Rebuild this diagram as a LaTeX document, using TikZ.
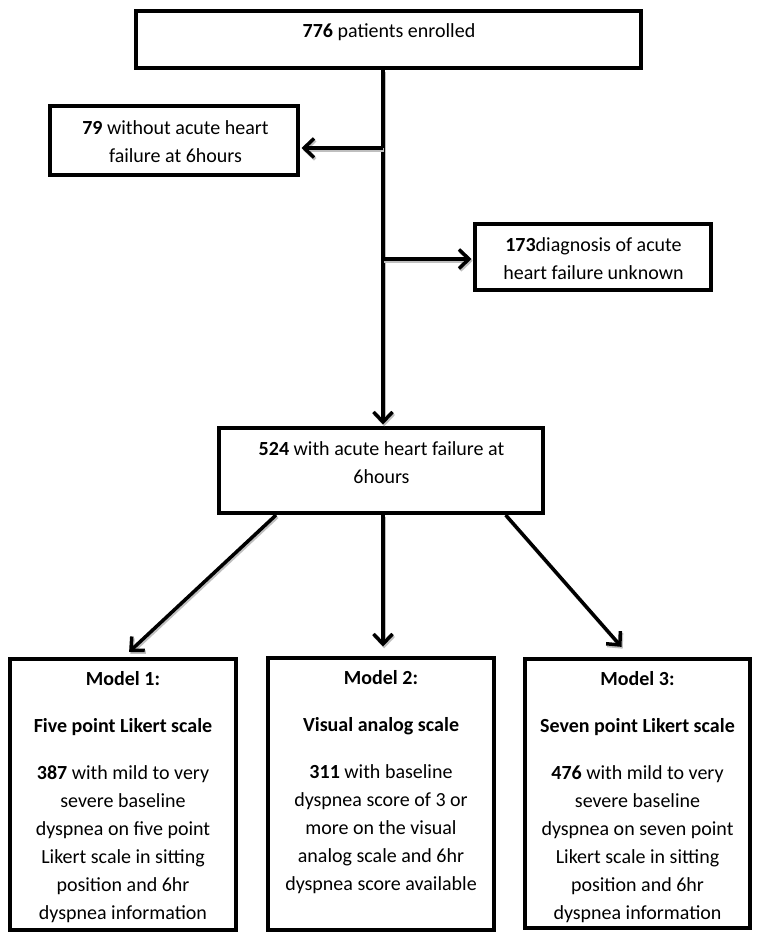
\documentclass[tikz,border=0pt]{standalone}
\usepackage{fontspec}
\setmainfont{Carlito}
\usetikzlibrary{arrows.meta,calc}
\begin{document}
\begin{tikzpicture}[x=1pt,y=-1pt,
  box/.style={draw, line width=4pt, inner sep=0pt},
  txt/.style={align=center, inner sep=0pt, font=\fontsize{20}{28}\selectfont},
  arr/.style={line width=3.5pt, shorten >=1.5pt, -{Straight Barb[length=10pt,width=19pt]},
    preaction={draw=black!25, line width=3.5pt, transform canvas={shift={(1.2pt,-1.8pt)}}}}]
\useasboundingbox (0,0) rectangle (762,941);
\fill[white] (0,0) rectangle (762,941);

% boxes
\node[box, minimum width=505pt, minimum height=57pt] (top) at (388.5,39.5) {};
\node[box, minimum width=248pt, minimum height=69pt] (left) at (174,140.5) {};
\node[box, minimum width=236pt, minimum height=66pt] (right) at (593,257) {};
\node[box, minimum width=324pt, minimum height=85pt] (mid) at (381,470.5) {};
\node[box, minimum width=226pt, minimum height=271pt] (m1) at (123,794.5) {};
\node[box, minimum width=226pt, minimum height=272pt] (m2) at (381,794) {};
\node[box, minimum width=225pt, minimum height=269pt] (m3) at (637.5,793.5) {};

% texts
\node[txt] (topt) at (389,32) {\textbf{776} patients enrolled};
\node[txt] (leftt) at (175.5,142) {\textbf{79} without acute heart\\failure at 6hours};
\node[txt] (rightt) at (593.5,259) {\textbf{173}diagnosis of acute\\heart failure unknown};
\node[txt] (midt) at (381.5,462.5) {\textbf{524} with acute heart failure at\\6hours};
\node[txt] (m1t) at (123,797.5) {\textbf{Model 1:}\\[19pt]\textbf{Five point Likert scale}\\[19pt]\textbf{387} with mild to very\\severe baseline\\dyspnea on five point\\Likert scale in sitting\\position and 6hr\\dyspnea information};
\node[txt] (m2t) at (381,782) {\textbf{Model 2:}\\[19pt]\textbf{Visual analog scale}\\[19pt]\textbf{311} with baseline\\dyspnea score of 3 or\\more on the visual\\analog scale and 6hr\\dyspnea score available};
\node[txt] (m3t) at (637.5,797.5) {\textbf{Model 3:}\\[19pt]\textbf{Seven point Likert scale}\\[19pt]\textbf{476} with mild to very\\severe baseline\\dyspnea on seven point\\Likert scale in sitting\\position and 6hr\\dyspnea information};

% connectors
\coordinate (spine) at (383,0);
\coordinate (j1) at (383,148);
\coordinate (j2) at (383,259);
\draw[arr] (top.south -| spine) -- (mid.north -| spine);
\draw[arr] (j1) -- (j1 -| left.east);
\draw[arr] (j2) -- (j2 -| right.west);
\draw[arr] ($(mid.south west)!0.18!(mid.south east)$) -- ($(m1.north)+(5,-4)$);
\draw[arr] (mid.south -| spine) -- ($(m2.north -| spine)+(0,-8)$);
\draw[arr] ($(mid.south west)!0.88!(mid.south east)$) -- ($(m3.north)+(-15,-9)$);
\end{tikzpicture}
\end{document}
